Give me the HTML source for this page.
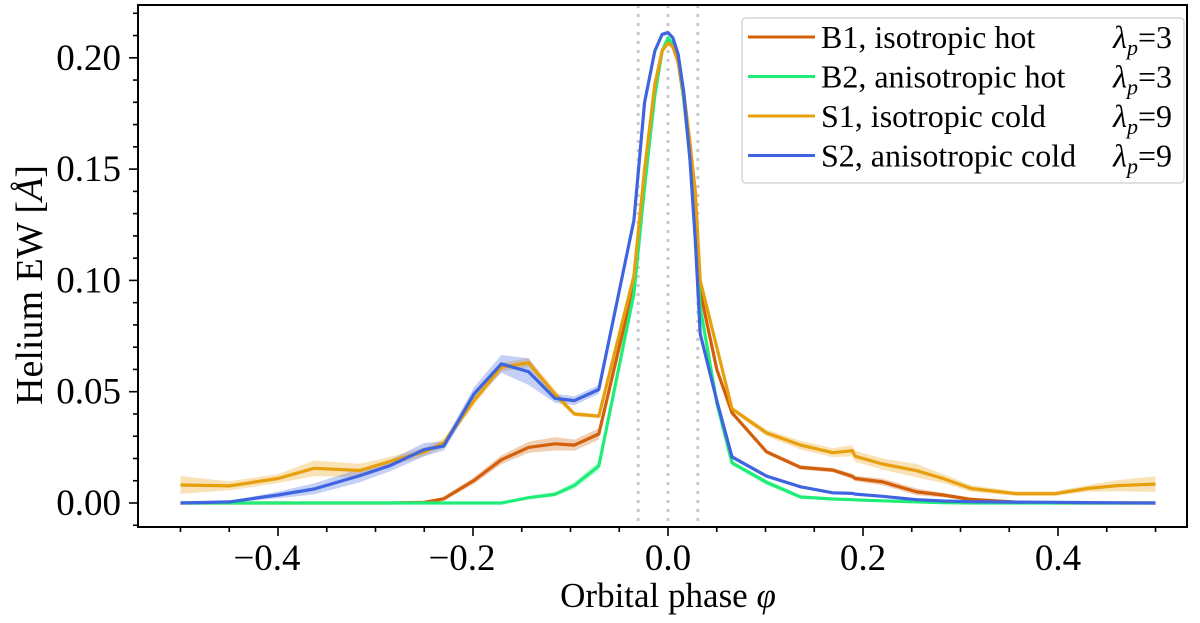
<!DOCTYPE html>
<html><head><meta charset="utf-8"><style>
html,body{margin:0;padding:0;background:#fff}
svg{display:block;font-family:"Liberation Serif","DejaVu Serif",serif}
</style></head><body>
<svg id="chart" width="1200" height="623" viewBox="0 0 1200 623" xmlns="http://www.w3.org/2000/svg">
<g id="bands"></g>
<g id="guides"></g>
<g id="lines"></g>
<g id="axes"></g>
<g id="legend"></g>
</svg>
<script>
const phases=[-0.5,-0.45,-0.4,-0.363,-0.316,-0.285,-0.25,-0.23,-0.199,-0.171,-0.143,-0.116,-0.096,-0.071,-0.035,-0.024,-0.0135,-0.006,0,0.005,0.0105,0.016,0.0226,0.028,0.033,0.05,0.0656,0.101,0.136,0.169,0.189,0.192,0.22,0.255,0.282,0.311,0.357,0.397,0.43,0.461,0.5];
const b1Values=[0,0,0,0,0,0,0.0003,0.0019,0.0101,0.0194,0.025,0.0266,0.026,0.031,0.098,0.146,0.185,0.203,0.208,0.205,0.198,0.182,0.155,0.125,0.095,0.06,0.0405,0.023,0.016,0.0148,0.012,0.011,0.0095,0.005,0.0036,0.0016,0.0004,0,0,0,0];
const b2Values=[0,0,0,0,0,0,0,0,0,0,0.0024,0.0039,0.0079,0.0166,0.094,0.142,0.183,0.203,0.209,0.206,0.199,0.183,0.155,0.12,0.088,0.045,0.018,0.0093,0.0027,0.0018,0.0015,0.0014,0.001,0.0005,0.0002,0,0,0,0,0,0];
const s1Values=[0.0081,0.0077,0.011,0.0156,0.0146,0.0187,0.023,0.027,0.046,0.061,0.063,0.049,0.040,0.039,0.102,0.150,0.188,0.203,0.2066,0.205,0.198,0.185,0.162,0.14,0.100,0.07,0.0423,0.0315,0.026,0.0226,0.0235,0.021,0.0175,0.0145,0.011,0.0065,0.0042,0.0042,0.0065,0.0078,0.0085];
const s2Values=[0,0.0005,0.0036,0.0063,0.0123,0.0168,0.024,0.0256,0.049,0.0625,0.059,0.047,0.046,0.051,0.127,0.18,0.203,0.2105,0.2113,0.209,0.2015,0.185,0.154,0.118,0.076,0.046,0.0207,0.0121,0.0073,0.0046,0.0043,0.004,0.003,0.0015,0.0009,0.0006,0.0004,0.0003,0.0002,0.0001,0];
const b1Err=[0,0,0,0,0,0,0.0003,0.001,0.0015,0.002,0.0025,0.003,0.0025,0.0025,0.002,0.001,0.001,0.001,0.001,0.001,0.001,0.001,0.001,0.001,0.001,0.001,0.001,0.001,0.001,0.001,0.0012,0.0012,0.0015,0.0015,0.001,0.0008,0.0003,0,0,0,0];
const b2Err=[0,0,0,0,0,0,0,0,0,0,0.0008,0.001,0.0015,0.002,0.001,0.001,0.001,0.001,0.001,0.001,0.001,0.001,0.001,0.001,0.001,0.001,0.001,0.0012,0.0008,0.0005,0.0003,0.0003,0.0002,0.0001,0,0,0,0,0,0,0];
const s1Err=[0.004,0.002,0.002,0.0035,0.003,0.002,0.002,0.002,0.002,0.002,0.002,0.002,0.001,0.001,0.001,0.001,0.001,0.001,0.001,0.001,0.001,0.001,0.001,0.001,0.001,0.001,0.001,0.0015,0.002,0.002,0.0025,0.0025,0.0025,0.003,0.002,0.0015,0.001,0.001,0.0015,0.0025,0.0035];
const s2Err=[0,0.0003,0.0015,0.0025,0.003,0.0025,0.003,0.002,0.003,0.004,0.006,0.002,0.002,0.002,0.001,0.001,0.001,0.001,0.001,0.001,0.001,0.001,0.001,0.001,0.001,0.001,0.001,0.0008,0.0005,0.0005,0.0004,0.0004,0.0003,0.0002,0.0002,0.0001,0.0001,0.0001,0.0001,0.0001,0];
const xTicks=[-0.4,-0.2,0.0,0.2,0.4];
const xTickLabels=["\u22120.4","\u22120.2","0.0","0.2","0.4"];
const yTicks=[0,0.05,0.10,0.15,0.20];
const yTickLabels=["0.00","0.05","0.10","0.15","0.20"];
const guidePhases=[-0.0306,0,0.0306];

const NS="http://www.w3.org/2000/svg";
const L=138,R=1187,T=5,B=527;
function xs(p){return 668+p*975;}
function ys(v){return 503-v*2226;}
function mk(tag,attrs,parent){const e=document.createElementNS(NS,tag);for(const k in attrs)e.setAttribute(k,attrs[k]);parent.appendChild(e);return e;}
const series=[
 {name:"b1",vals:b1Values,err:b1Err,color:"#d2600b"},
 {name:"b2",vals:b2Values,err:b2Err,color:"#1eee78"},
 {name:"s1",vals:s1Values,err:s1Err,color:"#e79f0c"},
 {name:"s2",vals:s2Values,err:s2Err,color:"#3e64e0"}
];
const bands=document.getElementById('bands'),lines=document.getElementById('lines'),guides=document.getElementById('guides'),axes=document.getElementById('axes'),legend=document.getElementById('legend');
series.forEach(s=>{
 let up=phases.map((p,i)=>xs(p).toFixed(1)+","+ys(s.vals[i]+s.err[i]).toFixed(1));
 let dn=phases.map((p,i)=>xs(p).toFixed(1)+","+ys(Math.max(0,s.vals[i]-s.err[i])).toFixed(1)).reverse();
 const band=mk('polygon',{points:up.concat(dn).join(" "),fill:s.color,'fill-opacity':0.3,stroke:'none'},bands);
 
 
});
guidePhases.forEach(g=>{
 const l=mk('line',{x1:xs(g),x2:xs(g),y1:T,y2:B,stroke:'#c8c8c8','stroke-width':3,'stroke-dasharray':'3,6'},guides);
 
 
});
series.forEach(s=>{
 const pl=mk('polyline',{points:phases.map((p,i)=>xs(p).toFixed(1)+","+ys(s.vals[i]).toFixed(1)).join(" "),fill:'none',stroke:s.color,'stroke-width':3.2,'stroke-linejoin':'round'},lines);
 
 
});
const frame=mk('rect',{x:L,y:T,width:R-L,height:B-T,fill:'none',stroke:'#000','stroke-width':2},axes);


for(let k=-10;k<=10;k++){const p=k*0.05;const x=xs(p);if(x<L||x>R)continue;const major=Math.abs(k%4)===0;
 mk('line',{x1:x,x2:x,y1:B,y2:B+(major?9:5),stroke:'#000','stroke-width':1.6},axes);}
for(let k=-1;k<=22;k++){const v=k*0.01;const y=ys(v);if(y<T||y>B)continue;const major=k%5===0;
 mk('line',{x1:L,x2:L-(major?9:5),y1:y,y2:y,stroke:'#000','stroke-width':1.6},axes);}
xTicks.forEach((t,i)=>{const tx=mk('text',{x:xs(t)-(t<0?11:0),y:570,'font-size':37,'text-anchor':'middle'},axes);tx.textContent=xTickLabels[i];
 
 });
yTicks.forEach((t,i)=>{const tx=mk('text',{x:121,y:ys(t)+12,'font-size':37,'text-anchor':'end'},axes);tx.textContent=yTickLabels[i];
 
 });
const xl=mk('text',{x:668,y:607,'font-size':35,'text-anchor':'middle'},axes);
xl.innerHTML='Orbital phase <tspan font-style="italic">φ</tspan>';


const yl=mk('text',{x:0,y:0,'font-size':38,'text-anchor':'middle',transform:'translate(42,285) rotate(-90)'},axes);
yl.innerHTML='Helium EW [<tspan font-style="italic">Å</tspan>]';


const lb=mk('rect',{x:742,y:18,width:442,height:165,rx:4,fill:'#fff','fill-opacity':0.85,stroke:'#d6d6d6','stroke-width':1.5},legend);


const legLabels=["B1, isotropic hot","B2, anisotropic hot","S1, isotropic cold","S2, anisotropic cold"];
const legLam=["3","3","9","9"];
series.forEach((s,i)=>{const y=37+i*39.5;
 const g=mk('g',{},legend);
 
 
 mk('line',{x1:748,x2:815,y1:y,y2:y,stroke:s.color,'stroke-width':3},g);
 const t=mk('text',{x:821,y:y+11,'font-size':32},g);t.textContent=legLabels[i];
 const t2=mk('text',{x:1172,y:y+11,'font-size':32,'text-anchor':'end'},g);
 t2.innerHTML='<tspan font-style="italic">λ</tspan><tspan font-style="italic" font-size="22" dy="7">p</tspan><tspan dy="-7">='+legLam[i]+'</tspan>';
});
</script>
</body></html>
